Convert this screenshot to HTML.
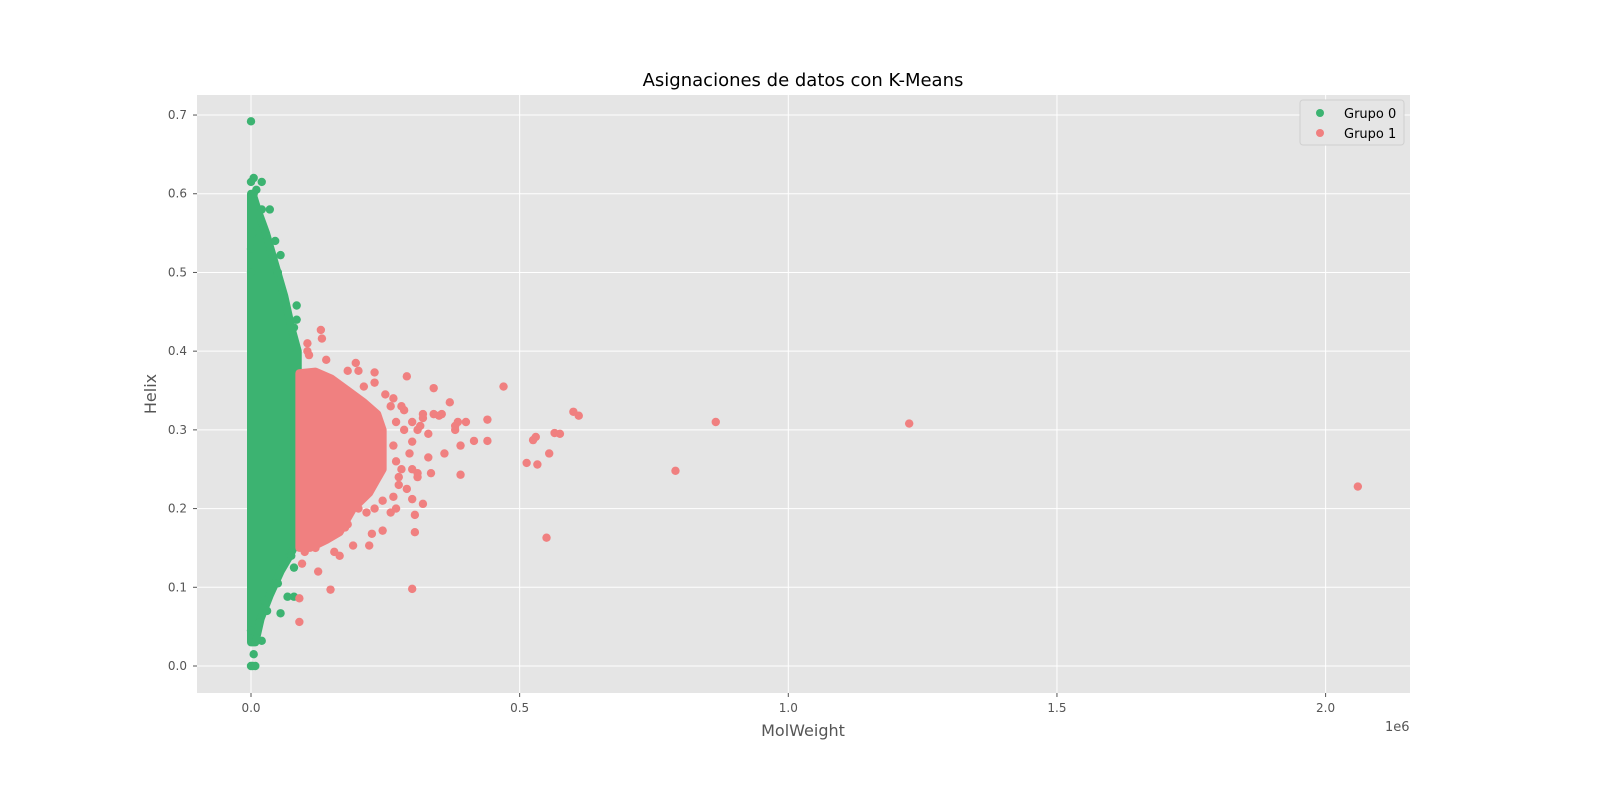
<!DOCTYPE html>
<html><head><meta charset="utf-8"><style>
body{margin:0;background:#fff;font-family:"Liberation Sans","DejaVu Sans",sans-serif}
svg text{font-family:"DejaVu Sans","Liberation Sans",sans-serif}
</style></head><body>
<svg id="chart" width="1600" height="795" viewBox="0 0 1600 795" xmlns="http://www.w3.org/2000/svg">
<rect x="0" y="0" width="1600" height="795" fill="#fff"/>
<rect x="197" y="95" width="1213" height="598" fill="#e5e5e5"/>
<g id="grid"></g>
<g id="marks"></g>
<g id="axes"></g>
<text x="803" y="86" font-size="18" text-anchor="middle" fill="#000">Asignaciones de datos con K-Means</text>
<text x="803" y="736" font-size="16" text-anchor="middle" fill="#555">MolWeight</text>
<text x="156" y="394" font-size="16" text-anchor="middle" fill="#555" transform="rotate(-90 156 394)">Helix</text>
<text x="1385" y="731" font-size="13" fill="#555">1e6</text>
<g>
<rect x="1300" y="100" width="104" height="45" rx="3" fill="#e5e5e5" stroke="#d0d0d0"/>
<circle cx="1320" cy="113" r="4" fill="#3cb371"/>
<text x="1344" y="118" font-size="13" fill="#000">Grupo 0</text>
<circle cx="1320" cy="133" r="4" fill="#f08080"/>
<text x="1344" y="138" font-size="13" fill="#000">Grupo 1</text>
</g>
</svg>
<script>
const xTicks=[0,0.5,1.0,1.5,2.0];
const xTickLabels=["0.0","0.5","1.0","1.5","2.0"];
const yTicks=[0,0.1,0.2,0.3,0.4,0.5,0.6,0.7];
const yTickLabels=["0.0","0.1","0.2","0.3","0.4","0.5","0.6","0.7"];
// dense core envelopes (MolWeight in 1e6, Helix)
const green_core_x=[0.0,0.008,0.018,0.035,0.055,0.072,0.087,0.087,0.075,0.062,0.045,0.028,0.012,0.003,0.0];
const green_core_y=[0.03,0.03,0.06,0.09,0.12,0.14,0.16,0.40,0.43,0.47,0.51,0.55,0.58,0.60,0.60];
const red_core_x=[0.09,0.12,0.15,0.18,0.21,0.235,0.245,0.245,0.22,0.19,0.165,0.14,0.11,0.09];
const red_core_y=[0.372,0.374,0.365,0.35,0.335,0.32,0.30,0.25,0.22,0.20,0.17,0.16,0.15,0.15];
const green_x=[0.0,0.005,0.0,0.02,0.01,0.005,0.035,0.02,0.045,0.055,0.05,0.085,0.085,0.08,0.0,0.008,0.003,0.005,0.02,0.01,0.03,0.055,0.068,0.08,0.025,0.0,0.015,0.08,0.075,0.05,0.0,0.0,0.003];
const green_y=[0.692,0.62,0.615,0.615,0.605,0.6,0.58,0.58,0.54,0.522,0.5,0.458,0.44,0.43,0.0,0.0,0.0,0.015,0.032,0.035,0.07,0.067,0.088,0.088,0.083,0.045,0.055,0.125,0.14,0.105,0.53,0.5,0.55];
const red_x=[0.47,0.44,0.44,0.415,0.40,0.39,0.39,0.38,0.37,0.35,0.34,0.33,0.33,0.335,0.32,0.36,0.30,0.305,0.305,0.3,0.29,0.6,0.61,0.565,0.575,0.53,0.525,0.513,0.533,0.555,0.55,0.79,0.865,1.225,2.06,0.09,0.09,0.148,0.27,0.26,0.245,0.22,0.225,0.13,0.132,0.105,0.14,0.195,0.23,0.23,0.25,0.265,0.28,0.27,0.28,0.31,0.31,0.32,0.2,0.18,0.165,0.19,0.125,0.155,0.175,0.18,0.27,0.285,0.295,0.30,0.265,0.275,0.29,0.30,0.315,0.32,0.34,0.355,0.38,0.385,0.31,0.30,0.275,0.265,0.245,0.23,0.215,0.21,0.285,0.26,0.17,0.2,0.105,0.108,0.095,0.1,0.12];
const red_y=[0.355,0.313,0.286,0.286,0.31,0.243,0.28,0.30,0.335,0.318,0.353,0.295,0.265,0.245,0.206,0.27,0.098,0.17,0.192,0.212,0.368,0.323,0.318,0.296,0.295,0.291,0.287,0.258,0.256,0.27,0.163,0.248,0.31,0.308,0.228,0.086,0.056,0.097,0.2,0.195,0.172,0.153,0.168,0.427,0.416,0.41,0.389,0.385,0.373,0.36,0.345,0.34,0.33,0.26,0.25,0.24,0.3,0.32,0.375,0.375,0.14,0.153,0.12,0.145,0.176,0.18,0.31,0.30,0.27,0.285,0.28,0.24,0.225,0.31,0.305,0.315,0.32,0.32,0.305,0.31,0.245,0.25,0.23,0.215,0.21,0.2,0.195,0.355,0.325,0.33,0.19,0.2,0.4,0.395,0.13,0.145,0.15];

const NS="http://www.w3.org/2000/svg";
const X=v=>251+v*537.3;
const Y=v=>666-v*787.1;
function mk(tag,attrs,parent){const e=document.createElementNS(NS,tag);for(const k in attrs)e.setAttribute(k,attrs[k]);parent.appendChild(e);return e;}
const grid=document.getElementById('grid'),marks=document.getElementById('marks'),axes=document.getElementById('axes');
xTicks.forEach((t,i)=>{
  const l=mk('line',{x1:X(t),x2:X(t),y1:95,y2:693,stroke:'#fff','stroke-width':1},grid);
  
  
  const tk=mk('line',{x1:X(t),x2:X(t),y1:693,y2:697,stroke:'#555'},axes);
  
  
  const tx=mk('text',{x:X(t),y:712,'font-size':12,'text-anchor':'middle',fill:'#555'},axes);
  tx.textContent=xTickLabels[i];
  
  
});
yTicks.forEach((t,i)=>{
  const l=mk('line',{x1:197,x2:1410,y1:Y(t),y2:Y(t),stroke:'#fff','stroke-width':1},grid);
  
  
  const tk=mk('line',{x1:193,x2:197,y1:Y(t),y2:Y(t),stroke:'#555'},axes);
  
  
  const tx=mk('text',{x:187,y:Y(t)+4,'font-size':12,'text-anchor':'end',fill:'#555'},axes);
  tx.textContent=yTickLabels[i];
  
  
});
function core(xs,ys,col,name){
  const pts=xs.map((v,i)=>X(v)+','+Y(ys[i])).join(' ');
  const p=mk('polygon',{points:pts,fill:col,stroke:col,'stroke-width':8,'stroke-linejoin':'round'},marks);
  
  
}
function pts(xs,ys,col,name){
  xs.forEach((v,i)=>{
    const c=mk('circle',{cx:X(v),cy:Y(ys[i]),r:4.2,fill:col},marks);
    
    
  });
}
core(green_core_x,green_core_y,'#3cb371','grupo-0-dense-core');
pts(green_x,green_y,'#3cb371','grupo-0-point');
core(red_core_x,red_core_y,'#f08080','grupo-1-dense-core');
pts(red_x,red_y,'#f08080','grupo-1-point');
</script>
</body></html>
